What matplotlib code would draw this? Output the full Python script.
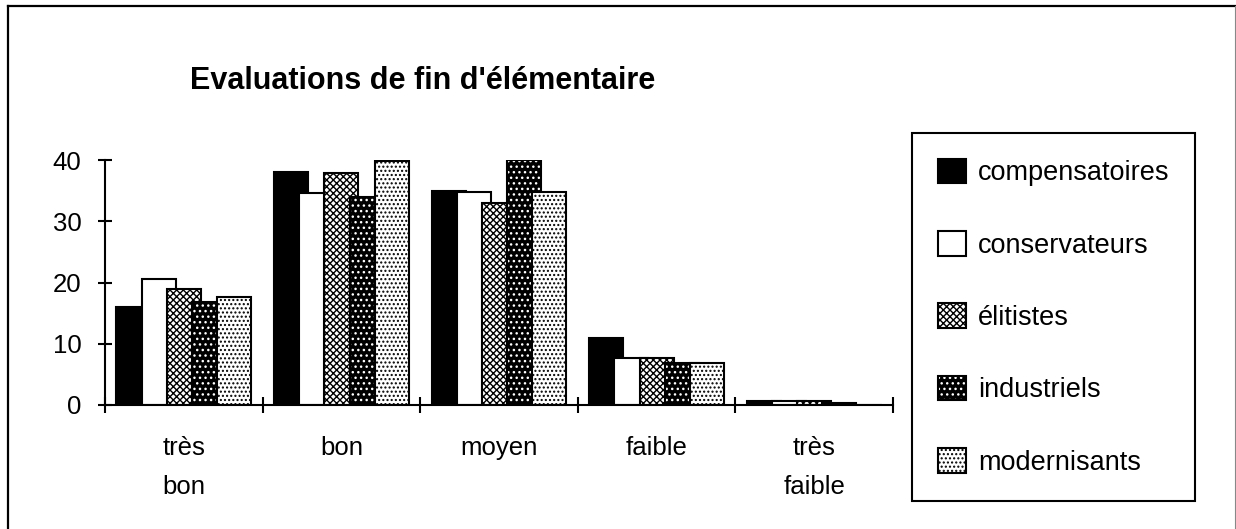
import matplotlib
matplotlib.use("Agg")
import matplotlib.pyplot as plt
import numpy as np
from matplotlib.patches import Patch
from matplotlib.lines import Line2D
from matplotlib.legend_handler import HandlerTuple

plt.rcParams['font.family'] = ['Liberation Sans', 'DejaVu Sans']
plt.rcParams['hatch.linewidth'] = 1.0

categories = ["très\nbon", "bon", "moyen", "faible", "très\nfaible"]
series = ["compensatoires", "conservateurs", "élitistes", "industriels", "modernisants"]
compensatoires = [16, 38, 35, 11, 0.7]
conservateurs = [20.6, 34.6, 34.8, 7.7, 0.7]
elitistes = [19, 37.8, 33, 7.7, 0.6]
industriels = [16.8, 34, 40, 6.9, 0.3]
modernisants = [17.6, 39.8, 34.8, 6.9, 0.0]
values = [compensatoires, conservateurs, elitistes, industriels, modernisants]
yticks = [0, 10, 20, 30, 40]

# style per series: (facecolor, hatchcolor, hatch)
styles = [
    ("black", "black", None),
    ("white", "white", None),
    ("white", "black", "xxxxx"),
    ("black", "white", "..."),
    ("white", "black", "...."),
]

W, H = 1236, 529
fig = plt.figure(figsize=(W / 100, H / 100), dpi=100)
ax = fig.add_axes([105 / W, 1 - 405 / H, (893 - 105) / W, (405 - 160) / H])

step = 0.16
width = 0.215
start = (1 - (4 * step + width)) / 2
x0 = np.arange(len(categories))
handles = []
for i, (name, vals) in enumerate(zip(series, values)):
    fc, hc, hatch = styles[i]
    lefts = x0 + start + i * step
    ax.bar(lefts, vals, width=width, align='edge', color=fc, edgecolor=hc,
           hatch=hatch, linewidth=0, zorder=2 + i * 0.1)
    ax.bar(lefts, vals, width=width, align='edge', fill=False, edgecolor='black',
           linewidth=1.5, zorder=2.05 + i * 0.1)
    h = (Patch(facecolor=fc, edgecolor=hc, hatch=hatch, linewidth=0),
         Patch(facecolor='none', edgecolor='black', linewidth=1.5))
    handles.append(h)

ax.set_xlim(0, len(categories))
ax.set_ylim(0, 40)
ax.set_yticks(yticks)
ax.set_yticklabels([str(v) for v in yticks])
ax.set_xticks(np.arange(len(categories) + 1))
ax.set_xticklabels([])
ax.set_xticks(x0 + 0.5, minor=True)
ax.set_xticklabels(categories, minor=True, linespacing=1.8, va='top')
for side in ['top', 'right']:
    ax.spines[side].set_visible(False)
for side in ['left', 'bottom']:
    ax.spines[side].set_linewidth(1.5)
ax.tick_params(axis='y', direction='inout', length=10, width=1.5, labelsize=18.5, pad=12)
ax.tick_params(axis='x', which='major', direction='inout', length=11, width=1.5)
ax.tick_params(axis='x', which='minor', length=0, labelsize=18.5, pad=22)

fig.text(190 / W, 1 - 89 / H, "Evaluations de fin d'élémentaire", fontsize=22,
         fontweight='bold', ha='left', va='baseline')

leg = fig.legend(handles, series, handler_map={tuple: HandlerTuple(ndivide=1, pad=0)},
                 loc='upper left', bbox_to_anchor=(912 / W, 1 - 133 / H),
                 bbox_transform=fig.transFigure, borderaxespad=0,
                 fontsize=19.5, handlelength=1.03, handleheight=1.03,
                 handletextpad=0.45, labelspacing=1.65, borderpad=0.95,
                 fancybox=False, framealpha=1, edgecolor='black')
leg.get_frame().set_linewidth(1.5)

# outer frame
fig.add_artist(Line2D([8 / W, 8 / W], [-0.1, 1 - 6 / H], transform=fig.transFigure,
                      color='black', linewidth=1.6, solid_capstyle='projecting'))
fig.add_artist(Line2D([8 / W, 1234.5 / W], [1 - 6 / H, 1 - 6 / H], transform=fig.transFigure,
                      color='black', linewidth=1.6, solid_capstyle='projecting'))
fig.add_artist(Line2D([1234.5 / W, 1234.5 / W], [-0.1, 1 - 6 / H], transform=fig.transFigure,
                      color='#888888', linewidth=0.8))

fig.savefig("out.png", dpi=100)
